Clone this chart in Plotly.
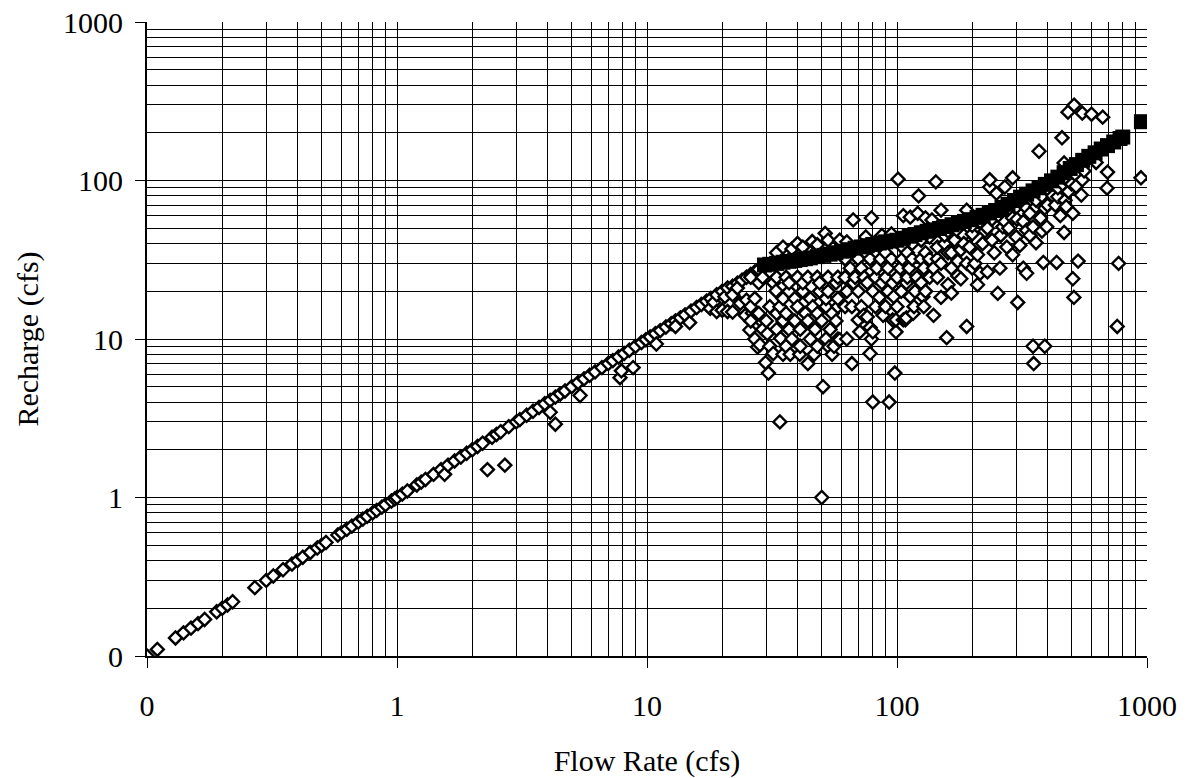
import plotly.graph_objects as go

# Observed recharge vs. flow rate (cfs), grouped by flow range.
observed_low = [
    (0.10, 0.10), (0.11, 0.11), (0.13, 0.13), (0.14, 0.14), (0.15, 0.15),
    (0.16, 0.16), (0.17, 0.17), (0.19, 0.19), (0.20, 0.20), (0.21, 0.21),
    (0.22, 0.22), (0.27, 0.27), (0.30, 0.30), (0.32, 0.32), (0.35, 0.35),
    (0.38, 0.38), (0.40, 0.40), (0.42, 0.42), (0.45, 0.45), (0.48, 0.48),
    (0.50, 0.50), (0.52, 0.52), (0.58, 0.58), (0.60, 0.60), (0.63, 0.63),
    (0.66, 0.66), (0.70, 0.70), (0.73, 0.73), (0.76, 0.76), (0.80, 0.80),
    (0.83, 0.83), (0.87, 0.87), (0.90, 0.90), (0.95, 0.95), (0.98, 0.98),
]

observed_1_10 = [
    (1.00, 1.00), (1.05, 1.05), (1.10, 1.10), (1.20, 1.20), (1.25, 1.25),
    (1.30, 1.30), (1.40, 1.40), (1.50, 1.50), (1.55, 1.40), (1.60, 1.60),
    (1.70, 1.70), (1.80, 1.80), (1.90, 1.90), (2.00, 2.00), (2.10, 2.10),
    (2.20, 2.20), (2.30, 1.50), (2.40, 2.40), (2.50, 2.50), (2.60, 2.60),
    (2.70, 1.60), (2.80, 2.80), (3.00, 3.00), (3.10, 3.10), (3.30, 3.30),
    (3.50, 3.50), (3.70, 3.70), (3.90, 3.90), (4.10, 4.10), (4.10, 3.45),
    (4.30, 4.30), (4.30, 2.90), (4.50, 4.50), (4.70, 4.70), (5.00, 5.00),
    (5.30, 5.30), (5.40, 4.40), (5.60, 5.60), (5.90, 5.90), (6.20, 6.20),
    (6.60, 6.60), (7.00, 7.00), (7.30, 7.30), (7.70, 7.70), (7.80, 5.70),
    (7.90, 6.30), (8.10, 8.10), (8.50, 8.50), (8.80, 6.60), (9.00, 9.00),
    (9.50, 9.50), (9.90, 9.90),
]

observed_10_30 = [
    (10.3, 10.3), (10.8, 10.8), (10.9, 9.3), (11.3, 11.3), (11.9, 11.9),
    (12.5, 12.5), (13.0, 13.0), (13.0, 12.0), (13.6, 13.6), (14.2, 14.2),
    (14.8, 12.7), (15.0, 15.0), (15.8, 15.8), (16.5, 16.5), (17.3, 17.3),
    (17.9, 15.6), (18.0, 18.0), (18.5, 17.0), (19.0, 19.0), (19.0, 14.9),
    (20.0, 20.0), (20.0, 15.2), (20.5, 18.5), (21.0, 21.0), (21.0, 14.9),
    (22.0, 21.5), (22.0, 19.0), (22.0, 14.8), (23.0, 22.5), (23.0, 21.0),
    (23.6, 16.8), (24.0, 23.5), (24.7, 14.1), (25.0, 24.5), (25.0, 17.6),
    (26.0, 25.5), (26.4, 14.6), (27.0, 26.5), (28.0, 27.5), (28.3, 13.2),
]

observed_25_60 = [
    (25.8, 11.4), (26, 13), (26, 16), (26, 24.5), (27, 18), (27.7, 8.9),
    (27, 10), (28, 22.6), (28.3, 9.2), (28, 14.5), (29, 11.5), (29, 24.5),
    (29.8, 7.1), (30, 13), (30.3, 10.8), (30.6, 6.1), (31, 16), (31, 9),
    (32, 8.1), (32, 22.6), (32.8, 20.1), (33, 11.5), (33, 14.5), (33, 24.5),
    (33, 35), (34, 3.0), (34, 16), (34.2, 10.1), (35, 8.0), (35, 13),
    (35, 18), (35, 38), (36, 9), (36, 14.5), (36, 24.5), (37, 20),
    (37, 22.6), (37, 11.5), (37.4, 8.0), (38, 10), (38, 37), (39, 13),
    (39, 18), (40, 16), (40, 24.5), (40, 40), (40.8, 8.0), (41, 9),
    (41, 11.5), (42, 20), (42, 22.6), (42, 38), (43, 14.5), (44, 13),
    (44, 7.0), (44, 24.5), (45, 10), (45, 18), (45.8, 41.2), (46, 16),
    (46.6, 8.0), (47, 11.5), (48, 9), (48, 14.5), (48, 24.5), (48, 39.3),
    (49, 20), (49, 22.6), (50, 13), (50, 1.0), (50.6, 5.0), (51.6, 46.4),
    (52, 10), (52, 16), (52, 18), (53, 20), (53, 24.5), (53, 42),
    (53.5, 8.9), (54, 11.5), (55, 14.5), (55, 8.0), (56, 9), (57, 13),
    (57, 22.6), (58, 10), (58, 16), (58, 18), (58, 24.5), (59, 9.9),
    (59, 42),
]

observed_60_150 = [
    (62, 16), (62, 24.5), (62, 32), (63, 10), (63, 20), (63, 41),
    (65, 28), (66, 7.0), (66, 16), (66.8, 56.4), (67, 22.6), (68, 24.5),
    (70, 13.2), (70, 20), (70, 32), (71, 11.1), (72, 16), (72, 28),
    (73.6, 14.1), (74, 24.5), (75, 35), (75, 44), (76, 13.8), (76, 22.6),
    (78, 8.1), (78, 11.8), (78, 32), (79, 10), (79, 58), (80, 4.0),
    (80, 11.1), (80, 20), (82, 16), (82, 24.5), (83, 28), (85, 18.3),
    (86, 32), (87, 22.6), (87, 45), (88, 14.1), (90, 16), (90, 24.5),
    (90, 35), (92, 20), (92, 28), (93, 4.0), (95, 32), (95, 46),
    (96, 13.2), (96, 22.6), (97, 18.5), (98, 6.1), (99, 11.1), (99, 13.2),
    (100, 16), (100, 24.5), (101, 102), (103, 28), (104, 20), (105, 32),
    (105, 38), (106, 13.2), (106, 60), (108, 13.2), (109, 22.6),
    (109, 13.6), (110, 24.5), (110, 35), (112, 28), (113, 18.5),
    (113, 58.7), (115, 32), (115, 40), (116, 14.5), (117, 16), (118, 20),
    (120, 24.5), (121, 62), (122, 80), (125, 22.6), (125, 32), (125, 42),
    (127, 18.5), (128, 16), (128, 28), (130, 20), (130, 35), (130, 58),
    (135, 24.5), (135, 32), (135, 44), (138, 56.4), (140, 14.1), (140, 28),
    (143, 98), (145, 24.5), (145, 32), (145, 38), (150, 18.3),
]

observed_150_400 = [
    (150, 30), (150, 65), (155, 40), (155, 45), (158, 10.2), (160, 22),
    (160, 35), (160, 48), (165, 28), (165, 19.5), (165, 35), (170, 42),
    (175, 25), (175, 31), (175, 48), (180, 36.5), (180, 24), (185, 45),
    (185, 40), (190, 30), (190, 12), (190, 65), (195, 38), (200, 46),
    (200, 28), (200, 52), (205, 30), (210, 34), (210, 22), (215, 26),
    (215, 55), (220, 40), (225, 48), (230, 26.5), (230, 50), (235, 91),
    (235, 101), (240, 42), (240, 57), (245, 35), (250, 83), (253, 19.4),
    (255, 60), (258, 28), (260, 45), (265, 51), (270, 91), (270, 55),
    (275, 38), (280, 50), (285, 62), (290, 34), (290, 58), (290, 104),
    (300, 44), (300, 68), (302, 57), (304, 17), (310, 39), (315, 72),
    (320, 28), (320, 55), (330, 26), (330, 48.5), (330, 67), (340, 45),
    (340, 62), (350, 51), (350, 9.0), (352, 7.0), (360, 40.5), (360, 68.5),
    (360, 75), (370, 153), (375, 58), (380, 48), (380, 80), (385, 30.4),
    (390, 67), (390, 9.0), (397, 51), (400, 70),
]

observed_400_1000 = [
    (410, 85), (420, 95), (420, 80), (430, 70), (435, 30.4), (440, 79),
    (440, 90), (450, 60), (457, 186), (460, 95), (466, 129), (466, 47),
    (470, 75), (475, 68.5), (480, 100), (483, 270), (485, 85), (500, 95),
    (505, 62), (505, 24), (510, 18.3), (511, 299), (520, 92), (530, 31),
    (546, 81), (551, 101), (551, 266), (560, 115), (600, 262), (626, 130),
    (665, 251), (692, 89.5), (695, 113), (760, 12), (770, 30), (946, 104),
]

# Modelled recharge vs. flow rate (cfs).
modelled = [
    (29.5, 29.3), (31, 29.6), (33, 30.0), (35, 30.5), (37, 30.9),
    (39, 31.3), (41, 31.7), (43, 32.1), (45, 32.5), (48, 33.1),
    (51, 33.7), (54, 34.3), (57, 35.0), (60, 35.8), (64, 36.6),
    (68, 37.4), (72, 38.1), (76, 38.8), (80, 39.5), (85, 40.3),
    (90, 41.0), (95, 41.5), (100, 42.0), (106, 43.2), (112, 44.5),
    (118, 45.6), (125, 46.8), (132, 47.8), (140, 48.8), (148, 49.8),
    (157, 51.2), (166, 52.6), (176, 53.8), (186, 55.2), (197, 56.6),
    (209, 58.5), (221, 60.3), (234, 62.4), (248, 64.7), (263, 67.6),
    (278, 70.8), (295, 74.8), (312, 78.5), (330, 82.0), (350, 86.0),
    (370, 90.0), (392, 94.5), (415, 99.5), (440, 105), (466, 112),
    (493, 119), (522, 126), (553, 134), (585, 142), (620, 149.5),
    (656, 158), (695, 166), (736, 175), (780, 184), (800, 188),
    (950, 235),
]

tick_values = [0.1, 1, 10, 100, 1000]
tick_labels = ["0", "1", "10", "100", "1000"]

observed = (observed_low + observed_1_10 + observed_10_30 + observed_25_60
            + observed_60_150 + observed_150_400 + observed_400_1000)
obs_flow, obs_recharge = zip(*observed)
mod_flow, mod_recharge = zip(*modelled)

# gridlines at every 2..9 multiple inside each decade
minor_vals = [m * 10.0 ** e for e in range(-1, 3) for m in range(2, 10)]

FONT = "Liberation Serif, Times New Roman, serif"

fig = go.Figure()
fig.add_trace(go.Scatter(
    x=obs_flow, y=obs_recharge, mode="markers", name="Observed",
    marker=dict(symbol="diamond", size=10, color="white",
                line=dict(color="black", width=2.4)),
))
fig.add_trace(go.Scatter(
    x=mod_flow, y=mod_recharge, mode="markers", name="Modelled",
    marker=dict(symbol="square", size=15, color="black",
                line=dict(width=0)),
))

axis_common = dict(
    type="log", range=[-1, 3], automargin=False,
    tickmode="array", tickvals=tick_values, ticktext=tick_labels,
    ticks="outside", ticklen=10, tickwidth=1, tickcolor="black",
    showline=True, linecolor="black", linewidth=2,
    showgrid=True, gridcolor="black", gridwidth=1,
    minor=dict(tickmode="array", tickvals=minor_vals, showgrid=True,
               gridcolor="black", gridwidth=1, ticks=""),
    tickfont=dict(family=FONT, size=30, color="black"),
    zeroline=False,
)

fig.update_layout(
    width=1188, height=778,
    margin=dict(l=147, r=41, t=22, b=122),
    paper_bgcolor="white", plot_bgcolor="white",
    showlegend=False,
    font=dict(family=FONT, size=30, color="black"),
    xaxis=dict(**axis_common, ticklabelstandoff=12,
               title=dict(text="Flow Rate (cfs)", standoff=32,
                          font=dict(family=FONT, size=30, color="black"))),
    yaxis=dict(**axis_common, ticklabelstandoff=6,
               title=dict(text="Recharge (cfs)", standoff=16,
                          font=dict(family=FONT, size=30, color="black"))),
)

fig.write_html("out.html")
